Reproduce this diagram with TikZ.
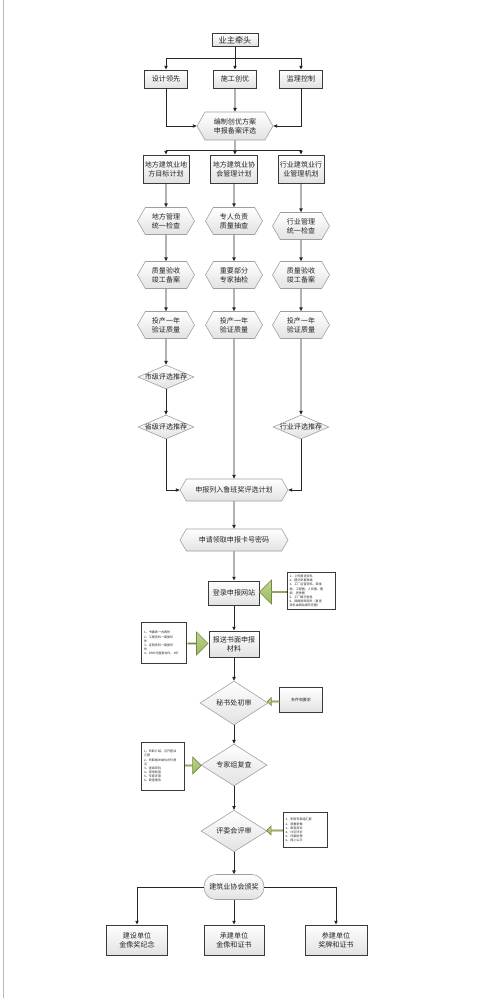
\documentclass[tikz,border=0pt]{standalone}
\usepackage{fontspec}
\setmainfont{Noto Sans CJK SC}
\usepackage{tikz}
\usetikzlibrary{arrows.meta,calc,shapes.geometric,shapes.symbols,shapes.arrows}

\definecolor{boxline}{HTML}{3A3A3A}
\definecolor{boxfill}{HTML}{E2E2E2}
\definecolor{arrowgreen}{HTML}{9BBB59}
\definecolor{arrowedge}{HTML}{71893F}

\begin{document}
\begin{tikzpicture}[x=0.3mm, y=-0.3mm,
  every node/.style={font=\fontsize{6}{7.6}\selectfont, text=black!85, align=center},
  box/.style={rectangle, draw=boxline, line width=0.8pt, top color=white, bottom color=boxfill, inner sep=1pt},
  hexa/.style={signal, signal to=west and east, signal pointer angle=120, draw=gray!75, line width=0.5pt, top color=white, bottom color=boxfill, inner sep=1pt},
  rhomb/.style={diamond, draw=gray!75, line width=0.5pt, top color=white, bottom color=boxfill, inner sep=0pt},
  note/.style={rectangle, draw=boxline, line width=0.8pt, fill=white, align=left, anchor=center, inner sep=0.8mm, font=\fontsize{2.6}{3.5}\selectfont},
  bigarrow/.style={single arrow, draw=arrowedge, line width=0.5pt, top color=arrowgreen!65, bottom color=arrowgreen, inner sep=0pt},
  line/.style={draw=black!85, line width=0.7pt},
  arr/.style={line, -{Triangle[length=3.2pt, width=2.8pt]}}
]
  \useasboundingbox (0,0) rectangle (503,998);
  \draw[gray!55, line width=0.5pt] (3,0) -- (3,998);

  % Top: owner and three leads
  \node[box, minimum width=13.8mm, minimum height=3.9mm, font=\fontsize{7}{8}\selectfont] (owner) at (235, 40) {业主牵头};
  \coordinate (split1) at (235, 58);
  \node[box, minimum width=12.9mm, minimum height=5.4mm] (design) at (166, 79) {设计领先};
  \node[box, minimum width=12.9mm, minimum height=5.4mm] (build) at (235, 79) {施工创优};
  \node[box, minimum width=12.9mm, minimum height=5.4mm] (super) at (301, 79) {监理控制};

  \node[hexa, minimum width=22.8mm, minimum height=8.4mm] (plan) at (235, 126) {编制创优方案\\申报备案评选};
  \coordinate (split2) at (235, 150);

  \draw[line] (owner) -- (split1);
  \draw[arr] (split1) -| (design);
  \draw[arr] (split1) -- (build);
  \draw[arr] (split1) -| (super);
  \draw[arr] (design) |- (plan);
  \draw[arr] (build) -- (plan);
  \draw[arr] (super) |- (plan);

  % Three columns: local, association, industry
  \node[box, minimum width=13.8mm, minimum height=8.4mm] (plocal) at (166, 169) {地方建筑业地\\方目标计划};
  \node[box, minimum width=14.1mm, minimum height=8.4mm] (passoc) at (234, 169) {地方建筑业协\\会管理计划};
  \node[box, minimum width=13.8mm, minimum height=8.4mm] (pindus) at (301, 169) {行业建筑业行\\业管理机划};

  \node[hexa, minimum width=17.1mm, minimum height=8.1mm] (chklocal) at (166, 221) {地方管理\\统一检查};
  \node[hexa, minimum width=17.1mm, minimum height=8.1mm] (chkassoc) at (234, 221) {专人负责\\质量抽查};
  \node[hexa, minimum width=17.1mm, minimum height=8.1mm] (chkindus) at (301, 226) {行业管理\\统一检查};

  \node[hexa, minimum width=17.1mm, minimum height=8.1mm] (acclocal) at (166, 275) {质量验收\\竣工备案};
  \node[hexa, minimum width=17.1mm, minimum height=8.1mm] (accassoc) at (234, 275) {重要部分\\专家抽检};
  \node[hexa, minimum width=17.1mm, minimum height=8.1mm] (accindus) at (301, 275) {质量验收\\竣工备案};

  \node[hexa, minimum width=17.1mm, minimum height=8.1mm] (yrlocal) at (166, 325) {投产一年\\验证质量};
  \node[hexa, minimum width=17.1mm, minimum height=8.1mm] (yrassoc) at (234, 325) {投产一年\\验证质量};
  \node[hexa, minimum width=17.1mm, minimum height=8.1mm] (yrindus) at (301, 325) {投产一年\\验证质量};

  \node[rhomb, minimum width=16.8mm, minimum height=7.2mm] (city) at (166, 377) {\makebox[0pt]{市级评选推荐}};
  \node[rhomb, minimum width=16.8mm, minimum height=7.2mm] (prov) at (166, 427) {\makebox[0pt]{省级评选推荐}};
  \node[rhomb, minimum width=16.8mm, minimum height=7.2mm] (trade) at (301, 427) {\makebox[0pt]{行业评选推荐}};

  \draw[arr] (split2) -| (plocal);
  \draw[arr] (split2) -- (passoc);
  \draw[arr] (split2) -| (pindus);
  \draw[line] (plan) -- (split2);
  \draw[arr] (plocal) -- (chklocal);
  \draw[arr] (chklocal) -- (acclocal);
  \draw[arr] (acclocal) -- (yrlocal);
  \draw[arr] (yrlocal) -- (city);
  \draw[arr] (city) -- (prov);
  \draw[arr] (passoc) -- (chkassoc);
  \draw[arr] (chkassoc) -- (accassoc);
  \draw[arr] (accassoc) -- (yrassoc);
  \draw[arr] (pindus) -- (chkindus);
  \draw[arr] (chkindus) -- (accindus);
  \draw[arr] (accindus) -- (yrindus);
  \draw[arr] (yrindus) -- (trade);

  % Application and review chain
  \node[hexa, minimum width=32.4mm, minimum height=6.6mm] (apply) at (234, 490) {申报列入鲁班奖评选计划};
  \node[hexa, minimum width=32.4mm, minimum height=6.6mm] (card) at (234, 540) {申请领取申报卡号密码};
  \node[box, minimum width=15.3mm, minimum height=7.2mm] (web) at (234, 593) {登录申报网站};
  \node[box, minimum width=15mm, minimum height=7.8mm] (paper) at (234, 644) {报送书面申报\\材料};
  \node[rhomb, minimum width=20.4mm, minimum height=13.2mm] (secr) at (234, 703) {秘书处初审};
  \node[rhomb, minimum width=19.8mm, minimum height=12.6mm] (expert) at (234, 765) {专家组复查};
  \node[rhomb, minimum width=19.8mm, minimum height=12mm] (jury) at (234, 831) {评委会评审};
  \node[rectangle, rounded corners=3.6mm, draw=gray!75, line width=0.5pt, top color=white, bottom color=boxfill, minimum width=18mm, minimum height=7.5mm] (award) at (234, 887) {建筑业协会颁奖};

  \draw[arr] (prov) |- (apply);
  \draw[arr] (yrassoc) -- (apply);
  \draw[arr] (trade) |- (apply);
  \draw[arr] (apply) -- (card);
  \draw[arr] (card) -- (web);
  \draw[arr] (web) -- (paper);
  \draw[arr] (paper) -- (secr);
  \draw[arr] (secr) -- (expert);
  \draw[arr] (expert) -- (jury);
  \draw[arr] (jury) -- (award);

  % Side notes with block arrows
  \node[note, text width=12.8mm, minimum height=11.1mm] (webnote) at (311, 591) {1、上传报送资料\\2、提交申报表格\\3、工厂运营资料、审批\\表、工程图、人员图、图\\纸、竞争图\\5、工厂概况信息\\6、网络视频资料（复查\\资料由网站填写完整）};
  \node[note, text width=11.9mm, minimum height=12.3mm] (papernote) at (164, 643) {1、书面表一式两份\\2、工程资料一套复印\\件\\3、证明资料一套复印\\件\\4、DMS光盘复合件、3份};
  \node[box, minimum width=12.9mm, minimum height=7.5mm, font=\fontsize{3.4}{4}\selectfont] (cond) at (301, 700) {条件和要求};
  \node[note, text width=11.3mm, minimum height=14.4mm] (expnote) at (163, 766) {1、听取介绍、召开座谈\\汇报\\2、听取相关单位评价意\\见\\3、查阅资料\\4、现场检查\\5、专家评审\\6、复查报告};
  \node[note, text width=11.6mm, minimum height=10.5mm] (jurynote) at (305, 830) {1、听取专家组汇报\\2、观看录像\\3、审查资料\\4、讨论评价\\5、评委投票\\6、网上公示};

  \node[bigarrow, shape border rotate=180, minimum height=8.1mm, minimum width=7.2mm, single arrow head extend=1.8mm] (ar1) at ($(web.east)!0.5!(webnote.west)$) {};
  \node[bigarrow, minimum height=6mm, minimum width=6.9mm, single arrow head extend=2mm] (ar2) at ($(papernote.east)!0.5!(paper.west)$) {};
  \node[bigarrow, shape border rotate=180, minimum height=3.6mm, minimum width=2.4mm, single arrow head extend=0.45mm] (ar3) at ($(secr.east)!0.5!(cond.west)$) {};
  \node[bigarrow, minimum height=4.8mm, minimum width=5.1mm, single arrow head extend=1.2mm] (ar4) at ($(expnote.east)!0.5!(expert.west)$) {};
  \node[bigarrow, shape border rotate=180, minimum height=4.8mm, minimum width=2.7mm, single arrow head extend=0.6mm] (ar5) at ($(jury.east)!0.5!(jurynote.west)$) {};

  % Awards
  \node[box, minimum width=18.3mm, minimum height=9mm] (rbuild) at (137, 940) {建设单位\\金像奖纪念};
  \node[box, minimum width=18mm, minimum height=9mm] (rmain) at (234, 940) {承建单位\\金像和证书};
  \node[box, minimum width=18.6mm, minimum height=9mm] (rpart) at (336, 940) {参建单位\\奖牌和证书};

  \draw[arr] (award) -| (rbuild);
  \draw[arr] (award) -- (rmain);
  \draw[arr] (award) -| (rpart);
\end{tikzpicture}
\end{document}
